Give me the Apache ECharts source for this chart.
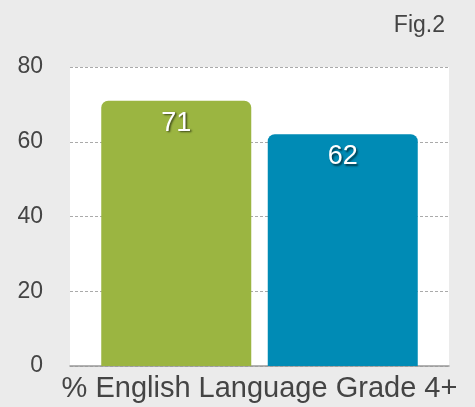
<!DOCTYPE html>
<html>
<head>
<meta charset="utf-8">
<script src="https://cdn.jsdelivr.net/npm/echarts@6/dist/echarts.min.js"></script>
<style>
  html, body { margin: 0; padding: 0; background: #ebebeb; }
  #chart { width: 475px; height: 407px; }
</style>
</head>
<body>
<div id="chart"></div>
<script>
// chart data
const categories = ['% English Language Grade 4+'];
const seriesA = [71];   // green bar
const seriesB = [62];   // blue bar
const yTicks = [0, 20, 40, 60, 80];

const chart = echarts.init(document.getElementById('chart'));

const barLabel = {
  show: true,
  position: 'insideTop',
  distance: 9,
  color: '#fff',
  fontSize: 27,
  fontFamily: 'Liberation Sans',
  textShadowColor: 'rgba(0,0,0,0.6)',
  textShadowBlur: 2,
  textShadowOffsetX: 1.5,
  textShadowOffsetY: 1.5
};

const option = {
  backgroundColor: '#ebebeb',
  animation: false,
  title: {
    text: 'Fig.2',
    right: 25,
    top: 9,
    textStyle: { color: '#444', fontSize: 23, fontWeight: 'normal', fontFamily: 'Liberation Sans' }
  },
  grid: {
    left: 70, right: 26, top: 67, bottom: 41,
    show: true, backgroundColor: '#fff', borderWidth: 0
  },
  xAxis: {
    type: 'category',
    data: categories,
    axisLine: { lineStyle: { color: '#999', width: 1.5 } },
    axisTick: { show: false },
    axisLabel: { color: '#444', fontSize: 29, fontFamily: 'Liberation Sans', margin: 8 }
  },
  yAxis: {
    type: 'value',
    min: yTicks[0],
    max: yTicks[yTicks.length - 1],
    interval: 20,
    axisLine: { show: false },
    axisTick: { show: false },
    axisLabel: { color: '#444', fontSize: 23, fontFamily: 'Liberation Sans', margin: 27 },
    splitLine: { lineStyle: { color: '#aaa', type: [3, 2], width: 1 } }
  },
  series: [
    {
      type: 'bar',
      data: seriesA,
      barWidth: 150,
      barGap: '11%',
      itemStyle: { color: '#9bb541', borderRadius: [7, 7, 0, 0] },
      label: barLabel
    },
    {
      type: 'bar',
      data: seriesB,
      barWidth: 150,
      itemStyle: { color: '#008bb5', borderRadius: [7, 7, 0, 0] },
      label: barLabel
    }
  ]
};

chart.setOption(option);
</script>
</body>
</html>
